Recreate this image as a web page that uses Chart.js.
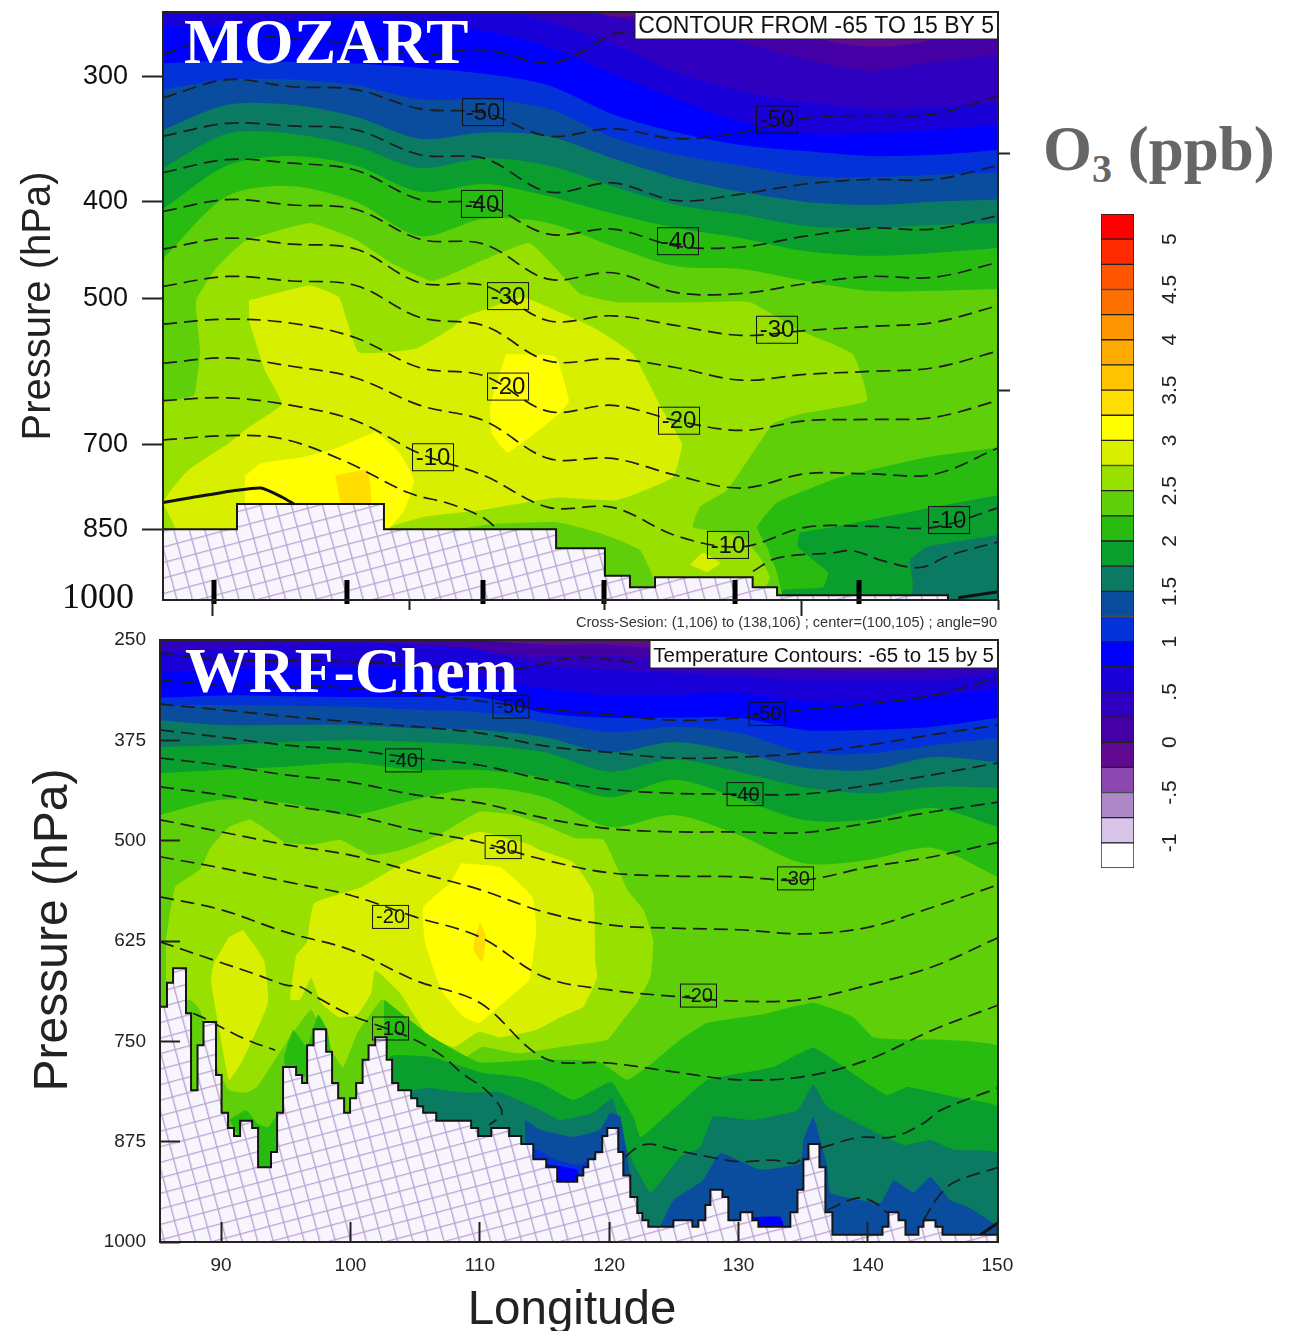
<!DOCTYPE html>
<html>
<head>
<meta charset="utf-8">
<title>O3 cross sections</title>
<script src="https://cdn.jsdelivr.net/npm/chart.js@4/dist/chart.umd.min.js"></script>
<style>
  html, body { margin: 0; background: #fff; overflow: hidden; }
  canvas { position: absolute; display: block; }
  #o3 { position: absolute; left: 1043px; top: 113px; font: bold 63px "Liberation Serif", serif; color: #666; white-space: nowrap; }
  #o3 sub { font-size: 40px; vertical-align: -12px; line-height: 0; }
</style>
</head>
<body>
<canvas id="mozart" width="1020" height="632" style="left:0;top:0"></canvas>
<canvas id="wrf" width="1020" height="701" style="left:0;top:630px"></canvas>
<canvas id="scale" width="271" height="680" style="left:1020px;top:200px"></canvas>
<div id="o3">O<sub>3</sub> (ppb)</div>
<script>
// colour levels, lowest first
const cbLow = [-1.25, -1, -0.75, -0.5, -0.25, 0, 0.25, 0.5, 0.75, 1, 1.25, 1.5, 1.75, 2, 2.25, 2.5, 2.75, 3, 3.25, 3.5, 3.75, 4, 4.25, 4.5, 4.75, 5];
const cbColors = ['#ffffff', '#d8c4e8', '#ad88c8', '#8c48b0', '#5f0a90', '#4400a4', '#3000c0', '#1a00d8', '#0000ff', '#0232d8', '#0a4c9e', '#0b7a62', '#0a9e2e', '#28bc10', '#5fcf0a', '#98e000', '#d8f000', '#ffff00', '#ffdd00', '#ffc400', '#ffaa00', '#ff9500', '#ff7000', '#ff5500', '#ff2a00', '#ff0000'];
const cbTicks = [5, 4.5, 4, 3.5, 3, 2.5, 2, 1.5, 1, 0.5, 0, -0.5, -1];
const cbLabels = ['5', '4.5', '4', '3.5', '3', '2.5', '2', '1.5', '1', '.5', '0', '-.5', '-1'];

// MOZART panel: axes
const topPressureTicks = [300, 400, 500, 700, 850, 1000];
const topLonTicksShort = [104.15, 119.33, 150];
const topLonTicksLong = [88.89, 134.74];
const topThickTicks = [88.97, 99.32, 109.91, 119.33, 129.53, 139.18];
const topRightTicks = [358, 618];

// MOZART panel: ozone band edges (hPa) along topLons
const topLons = [85, 90, 95, 100, 105, 110, 115, 120, 125, 130, 135, 140, 145, 150];
const topEdge0 = [250, 250, 250, 250, 250, 250, 250, 250, 250, 250, 250, 250, 250, 250];
const topEdge1 = [250, 250, 250, 250, 250, 250, 250, 261, 258, 250, 272, 280, 275, 255];
const topEdge2 = [250, 250, 250, 250, 250, 250, 250, 262, 264, 277, 288, 296, 290, 285];
const topEdge3 = [250, 250, 250, 250, 250, 256, 264, 278, 297, 310, 318, 323, 322, 318];
const topEdge4 = [267, 267, 264, 262, 264, 270, 280, 298, 316, 333, 342, 342, 339, 335];
const topEdge5 = [291, 289, 290, 291, 294, 298, 306, 327, 341, 351, 356, 360, 359, 355];
const topEdge6 = [309, 302, 302, 306, 316, 316, 323, 345, 359, 368, 377, 378, 376, 374];
const topEdge7 = [339, 320, 320, 329, 346, 341, 344, 362, 379, 391, 400, 403, 400, 398];
const topEdge8 = [370, 342, 342, 352, 370, 362, 368, 386, 403, 412, 423, 425, 422, 420];
const topEdge9 = [407, 368, 360, 368, 391, 384, 395, 411, 425, 435, 448, 453, 450, 445];
const topEdge10 = [456, 395, 386, 400, 433, 416, 420, 443, 464, 467, 480, 491, 491, 489];

// MOZART panel: closed ozone regions as [lon, hPa]
const topLime = [[85, 635], [87.41, 624], [87.88, 564], [87.57, 502], [89.13, 466], [91.38, 438], [96.44, 420], [99.95, 436], [102.83, 461], [106.02, 480], [109.83, 458], [113.57, 440], [117.46, 494], [120.34, 504], [126.8, 504], [130.7, 504], [134.59, 538], [138.71, 568], [139.8, 632], [134.59, 652], [132.49, 667], [128.9, 777], [126.8, 807], [126.26, 846], [129.92, 862], [131.32, 901], [132.25, 950], [131.1, 1000], [85, 1000]];
const topPaleLeft = [[91.69, 502], [96.44, 485], [98.7, 498], [99.32, 526], [100.26, 566], [104.7, 561], [107.58, 534], [108.2, 523], [112.95, 498], [113.8, 502], [118.47, 534], [121.59, 568], [123.92, 647], [125.4, 698], [124.7, 754], [120.34, 795], [115.67, 790], [109.83, 813], [105.32, 826], [102.2, 852], [102.2, 1000], [85.93, 1000], [85.93, 846], [85, 799], [86.95, 742], [90.06, 698], [91.69, 672], [94.26, 637], [92.94, 590], [91.69, 526]];
const topYellowLow = [[91.38, 752], [92.63, 730], [95.82, 720], [98.7, 704], [101.58, 680], [103.45, 714], [104.54, 759], [103.76, 814], [102.36, 852], [91.38, 852]];
const topGoldLow = [[98.39, 751], [100.88, 742], [101.19, 805], [98.86, 805]];
const topYellowMid = [[111.7, 568], [115.52, 571], [116.6, 632], [115.83, 652], [111.86, 712], [110.61, 682], [110.46, 640], [111.23, 593]];
const topDiamond = [[126.02, 922], [127.04, 897], [128.36, 919], [127.35, 938]];
const topGreenPatch = [[107.26, 852], [110.46, 840], [115.67, 836], [119.02, 857], [122.13, 891], [123.14, 950], [123.14, 1000], [107.26, 1000]];
const topDarkA = [[150, 704], [144.47, 720], [137.7, 754], [132.8, 799], [131.24, 846], [132.02, 885], [132.8, 939], [133.42, 1000], [150, 1000]];
const topDarkB = [[150, 786], [144.94, 808], [137.16, 846], [134.59, 857], [134.43, 885], [136.77, 939], [136.38, 971], [133.26, 977], [133.26, 1000], [150, 1000]];
const topTeal = [[150, 861], [144.47, 885], [143.15, 912], [143.38, 962], [143.38, 1000], [150, 1000]];

// MOZART panel: temperature contours (hPa) along topLons
const topT50 = [315, 302, 307, 309, 323, 326, 344, 338, 346, 341, 330, 328, 327, 314];
const topT45 = [344, 334, 336, 339, 359, 362, 391, 383, 399, 393, 384, 380, 380, 368];
const topT40 = [374, 363, 366, 372, 398, 402, 431, 426, 443, 444, 433, 425, 426, 413];
const topT35 = [409, 398, 403, 407, 436, 441, 478, 471, 493, 494, 483, 475, 476, 460];
const topT30 = [446, 435, 441, 446, 482, 485, 526, 520, 532, 544, 538, 533, 528, 508];
const topT25 = [486, 475, 480, 485, 522, 532, 577, 574, 586, 603, 595, 591, 586, 564];
const topT20 = [530, 524, 529, 547, 586, 597, 648, 639, 662, 677, 662, 660, 657, 632];
const topT15 = [580, 573, 584, 600, 639, 662, 722, 722, 751, 773, 748, 748, 749, 705];
const topT10 = [632, 628, 639, 662, 714, 751, 808, 808, 863, 885, 846, 844, 846, 809];
const topT55 = [[85, 285], [90, 272], [95, 275], [100, 278], [105, 285], [110, 282], [115, 291], [117.7, 283], [120, 272], [121.74, 271]];
const topT5a = [[85, 692], [90.06, 685], [94.26, 690], [99, 725], [104.07, 781], [107.26, 801], [109.83, 826], [111.08, 850]];
const topT5b = [[130.93, 936], [132.8, 908], [137.16, 897], [138.71, 893], [141.05, 914], [143.93, 928], [146.26, 902], [150, 875]];
const topSolidA = [[85, 799], [87.26, 790], [90.76, 777], [92.63, 773], [94.26, 789], [95.2, 802]];
const topSolidB = [[146.9, 995], [150, 981]];
const topTempText = ['-50', '-50', '-40', '-40', '-30', '-30', '-20', '-20', '-10', '-10', '-10'];
const topTempLon = [109.91, 132.8, 109.83, 125.09, 111.86, 132.8, 111.86, 125.17, 106.02, 128.98, 146.19];
const topTempP = [325.5, 331, 402, 438, 497, 537, 612, 662, 720, 881, 832];

// MOZART panel: ground (each level holds until the next longitude)
const topGround = [[85, 850], [90.76, 802], [102.2, 850], [115.6, 888], [119.4, 946], [121.35, 971], [123.3, 949], [130.9, 971], [132.8, 989], [146.1, 1000], [150, 1000]];

// WRF-Chem panel: axes
const wrfPressureTicks = [250, 375, 500, 625, 750, 875, 1000];
const wrfLonTicks = [90, 100, 110, 120, 130, 140, 150];

// WRF-Chem panel: ozone band edges (hPa) along wrfLons
const wrfLons = [85.28, 90, 95, 100, 105, 110, 115, 120, 125, 130, 135, 140, 145, 150.05];
const wrfEdge0 = [240, 240, 240, 240, 240, 240, 240, 240, 240, 240, 240, 240, 240, 240];
const wrfEdge1 = [240, 240, 240, 240, 240, 250, 256, 256, 262, 262, 262, 269, 262, 262];
const wrfEdge2 = [250, 250, 250, 252, 256, 265, 269, 269, 275, 281, 287, 290, 287, 281];
const wrfEdge3 = [266, 262, 257, 254, 256, 262, 281, 287, 291, 295, 300, 300, 300, 291];
const wrfEdge4 = [291, 287, 285, 284, 287, 300, 310, 319, 319, 316, 327, 327, 321, 310];
const wrfEdge5 = [322, 319, 320, 321, 321, 321, 341, 347, 347, 347, 362, 362, 358, 347];
const wrfEdge6 = [331, 331, 332, 333, 337, 340, 352, 365, 358, 366, 390, 391, 381, 372];
const wrfEdge7 = [350, 356, 356, 356, 360, 362, 371, 390, 377, 390, 409, 412, 396, 402];
const wrfEdge8 = [383, 381, 377, 375, 377, 381, 390, 414, 399, 414, 433, 441, 433, 434];
const wrfEdge9 = [416, 412, 408, 403, 412, 412, 422, 446, 424, 447, 474, 474, 459, 483];
const wrfEdge10 = [468, 449, 453, 468, 449, 434, 446, 483, 468, 493, 528, 524, 509, 545];

// WRF-Chem panel: closed ozone regions as [lon, hPa]
const wrfLime = [[85.74, 624], [86.44, 558], [88.37, 536], [89.22, 508], [90.62, 483], [92.24, 474], [93.86, 490], [95.02, 503], [97.19, 505], [99.2, 499], [101.52, 518], [103.84, 512], [106.86, 493], [109.95, 464], [112.66, 468], [114.9, 480], [117.38, 497], [119.54, 499], [121.4, 561], [122.64, 586], [123.41, 624], [123.18, 670], [122.17, 702], [121.09, 723], [119.85, 748], [116.22, 757], [112.97, 765], [110.18, 757], [108.02, 777], [104.69, 727], [102.45, 698], [101.6, 715], [100.52, 740], [99.43, 782], [98.35, 757], [96.96, 711], [95.02, 752], [92.78, 807], [91.93, 814], [90.62, 811], [89.77, 786], [88.37, 711], [87.6, 698], [85.74, 711]];
const wrfPale = [[96.65, 627], [97.19, 578], [100.83, 558], [103.84, 530], [107.71, 502], [109.95, 489], [113.9, 505], [114.67, 512], [117.22, 527], [118.77, 565], [118.92, 652], [119.08, 670], [118, 707], [116.22, 720], [114.36, 736], [111.58, 745], [109.95, 738], [108.02, 757], [106.08, 745], [103.84, 690], [101.91, 661], [101.6, 690], [100.52, 717], [99.12, 720], [97.73, 702], [96.96, 671], [96.11, 698], [95.33, 698], [95.8, 642]];
const wrfPaleWest = [[91.7, 611], [93.32, 649], [93.63, 702], [91.7, 773], [90.62, 798], [89.77, 727], [89.22, 674], [89.46, 652], [90.62, 620]];
const wrfYellow = [[108.56, 528], [111.58, 533], [114.05, 570], [114.36, 611], [113.82, 674], [112.66, 690], [109.95, 727], [108.79, 720], [107.17, 690], [106.63, 670], [105.77, 627], [105.62, 583], [107.71, 553]];
const wrfGold = [[110.03, 601], [110.49, 620], [110.18, 652], [109.49, 636], [109.64, 620]];
const wrfLowGreen = [[102.6, 698], [106.08, 742], [109.95, 776], [114.36, 773], [117.22, 773], [119.31, 776], [121.4, 798], [123.18, 779], [125.5, 748], [127.6, 727], [131.68, 717], [135.78, 702], [138.87, 720], [140.42, 745], [143.05, 748], [145.6, 748], [150.05, 757], [150.05, 1000], [102.6, 1000]];
const wrfWedgeA = [[94.87, 769], [95.57, 736], [96.65, 757], [97.5, 717], [98.2, 736], [98.58, 786], [95.02, 798]];
const wrfWedgeB = [[90.62, 848], [91.93, 836], [92.78, 852], [93.63, 857], [94.48, 839], [94.17, 907], [92.78, 907]];
const wrfLowDark = [[103, 769], [103.47, 767], [106.08, 769], [110.18, 789], [112.97, 794], [114.67, 802], [117.22, 823], [119.93, 801], [120.31, 802], [121.86, 844], [122.4, 869], [123.18, 860], [126.04, 819], [127.6, 798], [132.69, 782], [135.78, 758], [139.19, 794], [141.5, 817], [143.05, 807], [146.61, 819], [150.05, 832], [150.05, 1000], [103, 1000]];
const wrfLowTeal = [[104.69, 811], [106.08, 808], [108.79, 814], [111.58, 814], [114.36, 833], [116.22, 848], [118.77, 839], [120.24, 821], [121.4, 885], [123.18, 938], [125.5, 894], [127.04, 882], [128.05, 844], [131.14, 848], [134.55, 836], [135.78, 804], [136.87, 832], [142.74, 879], [144.83, 873], [146.61, 885], [150.05, 889], [150.05, 1000], [104.69, 1000]];
const wrfNavyWest = [[113.5, 848], [114.67, 860], [117.22, 869], [119.31, 860], [120.08, 839], [120.86, 844], [121.63, 948], [113.5, 948]];
const wrfNavyEast = [[123.95, 981], [124.96, 948], [127.27, 923], [128.59, 889], [131.68, 910], [134.77, 902], [135.01, 873], [135.78, 845], [136.87, 907], [137.1, 939], [140.97, 951], [141.97, 923], [143.52, 938], [144.83, 919], [146.38, 948], [147.69, 956], [150.05, 981], [150.05, 1000], [123.95, 1000]];
const wrfCobalt = [[114.05, 882], [115.98, 898], [117.76, 904], [120.08, 885], [120.08, 935], [114.05, 935]];
const wrfBlueWest = [[114.67, 902], [117.53, 910], [117.53, 935], [114.67, 935]];
const wrfBlueEast = [[131.14, 969], [133.23, 969], [133.62, 991], [130.9, 991]];

// WRF-Chem panel: temperature contours (hPa) along wrfLons
const wrfT50 = [300, 306, 307, 310, 317, 326, 336, 343, 350, 347, 337, 330, 319, 297];
const wrfT45 = [330, 337, 345, 352, 358, 366, 382, 390, 397, 396, 391, 381, 368, 356];
const wrfT40 = [362, 371, 381, 387, 397, 406, 424, 436, 441, 442, 442, 431, 418, 403];
const wrfT35 = [397, 406, 418, 427, 443, 453, 472, 485, 489, 489, 490, 478, 464, 452];
const wrfT30 = [433, 443, 456, 468, 487, 502, 524, 540, 544, 545, 549, 533, 520, 502];
const wrfT25 = [474, 489, 505, 518, 539, 561, 589, 605, 609, 611, 616, 608, 583, 555];
const wrfT20 = [520, 534, 551, 568, 595, 620, 670, 686, 694, 700, 698, 680, 657, 621];
const wrfT15 = [570, 586, 614, 636, 674, 702, 771, 777, 788, 798, 794, 773, 736, 705];
const wrfT55 = [[85.28, 266], [90, 275], [95, 275], [100, 277], [105, 281], [110, 285], [112.4, 287], [114.5, 281], [117.5, 272], [120.47, 275], [122.4, 280]];
const wrfT10 = [[85.28, 626], [89.46, 649], [92.78, 667], [95.02, 680], [96.11, 682], [97.73, 698], [99.97, 717], [101.6, 727], [104.69, 746], [107.17, 769], [108.56, 789], [110.49, 811], [111.58, 832], [111.65, 842], [110.72, 854]];
const wrfT5a = [[87.83, 715], [88.68, 721], [91.7, 746], [94.17, 761]];
const wrfT5b = [[121.24, 894], [122.17, 882], [123.18, 878], [124.96, 885], [128.05, 895], [130.14, 900], [132.69, 898], [134.24, 902], [135.01, 895]];
const wrfT5c = [[136.33, 883], [139.19, 870], [141.97, 869], [144.29, 852], [145.6, 836], [150.05, 808]];
const wrfT0a = [[136.87, 960], [139.19, 945], [140.42, 950], [141.5, 964]];
const wrfT0b = [[144.29, 973], [145.37, 945], [146.61, 926], [150.05, 907]];
const wrfSolid = [[148.7, 991], [150.05, 976]];
const wrfTempText = ['-50', '-50', '-40', '-40', '-30', '-30', '-20', '-20', '-10'];
const wrfTempLon = [112.4, 132.2, 104.1, 130.5, 111.8, 134.4, 103.1, 126.9, 103.1];
const wrfTempP = [333, 342, 400, 442, 508, 547, 595, 693, 734];

// WRF-Chem panel: ground (each level holds until the next longitude)
const wrfGround = [[85.28, 707], [85.82, 677], [86.29, 659], [87.29, 715], [87.68, 811], [88.18, 755], [88.64, 726], [89.61, 792], [90.04, 839], [90.54, 858], [91, 868], [91.47, 849], [92.4, 858], [92.86, 907], [93.86, 888], [94.33, 839], [94.79, 782], [95.8, 792], [96.26, 802], [96.65, 755], [97.15, 735], [98.12, 763], [98.58, 802], [99.05, 821], [99.51, 839], [99.97, 821], [100.44, 802], [100.94, 773], [101.4, 755], [101.91, 745], [102.8, 773], [103.22, 802], [103.69, 811], [104.69, 821], [105.16, 831], [105.62, 839], [106.63, 849], [109.33, 858], [109.87, 868], [110.88, 858], [112.27, 868], [113.2, 878], [114.13, 897], [115.13, 907], [115.98, 925], [117.53, 917], [118, 907], [118.38, 897], [118.92, 888], [119.46, 868], [119.85, 858], [120.7, 888], [121.09, 917], [121.63, 944], [122.17, 964], [122.56, 973], [123.02, 981], [124.96, 973], [126.43, 981], [126.89, 973], [127.43, 954], [127.82, 935], [128.75, 944], [129.21, 973], [130.14, 963], [131.06, 973], [131.53, 981], [134, 963], [134.55, 935], [135.01, 897], [135.4, 878], [136.25, 907], [136.71, 963], [137.25, 991], [141.12, 981], [141.58, 963], [142.36, 973], [142.9, 991], [143.9, 981], [144.29, 973], [145.22, 981], [145.76, 991], [150.05, 991]];

const C = {
    purple: '#5f0a90', indigo: '#4400a4', violet: '#3000c0', royal: '#1a00d8', blue: '#0000ff', cobalt: '#0232d8',
    navy: '#0a4c9e', teal: '#0b7a62', forest: '#0a9e2e', green: '#28bc10', leaf: '#5fcf0a', lime: '#98e000',
    pale: '#d8f000', yellow: '#ffff00', gold: '#ffdd00'
};
const edgeColors = [C.purple, C.indigo, C.violet, C.royal, C.blue, C.cobalt, C.navy, C.teal, C.forest, C.green, C.leaf];
const INK = '#1c1c1c';

function pts(pairs) { return pairs.map(p => ({ x: p[0], y: p[1] })); }
function along(lons, vals) { return lons.map((x, i) => ({ x: x, y: vals[i] })); }

function edge(lons, vals, color) {
    return { data: along(lons, vals), borderWidth: 0, backgroundColor: color, fill: { value: 1100 }, tension: 0.3 };
}
function region(pairs, color) {
    return { data: pts(pairs), borderWidth: 0, backgroundColor: color, fill: 'shape', tension: 0.12 };
}
function contour(data) {
    return { data: data, borderColor: INK, borderWidth: 1.7, borderDash: [14, 7], fill: false, tension: 0.35 };
}
function solid(pairs, width) {
    return { data: pts(pairs), borderColor: '#111', borderWidth: width, fill: false, tension: 0.2 };
}

// the crosshatch used for the ground
function hatchPattern() {
    const tile = document.createElement('canvas');
    tile.width = 15;
    tile.height = 15;
    const g = tile.getContext('2d');
    g.fillStyle = '#f9f5fc';
    g.fillRect(0, 0, 15, 15);
    g.strokeStyle = '#b8a4d2';
    g.lineWidth = 1.7;
    g.beginPath();
    g.moveTo(0.5, 0);
    g.lineTo(0.5, 15);
    g.moveTo(0, 0.5);
    g.lineTo(15, 0.5);
    g.stroke();
    const pattern = g.createPattern(tile, 'repeat');
    pattern.setTransform(new DOMMatrix().rotate(-15));
    return pattern;
}

function ground(pairs) {
    return { data: pts(pairs), stepped: true, borderColor: '#151515', borderWidth: 2, backgroundColor: hatchPattern(), fill: { value: 1000 } };
}

function setTicks(values) {
    return function(scale) { scale.ticks = values.map(v => ({ value: v })); };
}

// fixed axis sizes, without the room Chart.js keeps for the outer tick labels
function fitWidth(w) {
    return function(s) { s.width = w; s.paddingTop = 0; s.paddingBottom = 0; };
}
function fitHeight(h) {
    return function(s) { s.height = h; s.paddingLeft = 0; s.paddingRight = 0; };
}

function putText(ctx, text, x, y, font, color, align, angle) {
    ctx.save();
    ctx.translate(x, y);
    if (angle) ctx.rotate(angle);
    ctx.font = font;
    ctx.fillStyle = color;
    ctx.textAlign = align || 'left';
    ctx.textBaseline = 'alphabetic';
    ctx.fillText(text, 0, 0);
    ctx.restore();
}

// frame, title, key box and the boxed contour labels of one panel
function panelPlugin(cfg) {
    return {
        id: 'panel',
        afterDatasetsDraw(chart) {
            const ctx = chart.ctx;
            const area = chart.chartArea;
            const xs = chart.scales.x;
            const ys = chart.scales.y;
            ctx.save();
            ctx.strokeStyle = '#111';
            ctx.lineWidth = 1;
            ctx.font = cfg.labelFont;
            ctx.textAlign = 'center';
            ctx.textBaseline = 'middle';
            ctx.fillStyle = '#111';
            cfg.labelText.forEach((t, i) => {
                const px = xs.getPixelForValue(cfg.labelLon[i]);
                const py = ys.getPixelForValue(cfg.labelP[i]);
                ctx.strokeRect(px - cfg.labelW / 2, py - cfg.labelH / 2, cfg.labelW, cfg.labelH);
                ctx.fillText(t, px, py + 1);
            });
            ctx.restore();

            // white key box in the top right corner
            ctx.save();
            ctx.fillStyle = '#fff';
            ctx.strokeStyle = '#222';
            ctx.lineWidth = 1;
            ctx.fillRect(area.right - cfg.keyW, area.top, cfg.keyW, cfg.keyH);
            ctx.strokeRect(area.right - cfg.keyW, area.top, cfg.keyW, cfg.keyH);
            ctx.restore();
            putText(ctx, cfg.key, area.right - 4, area.top + cfg.keyH - 6, cfg.keyFont, '#111', 'right');
            putText(ctx, cfg.title, area.left + cfg.titleX, area.top + cfg.titleY, 'bold 63.7px "Liberation Serif"', '#fff');

            ctx.save();
            ctx.strokeStyle = '#222';
            ctx.lineWidth = 2;
            ctx.strokeRect(area.left, area.top, area.right - area.left, area.bottom - area.top);
            ctx.restore();
            if (cfg.extra) cfg.extra(ctx, area);
        }
    };
}

const baseOptions = {
    responsive: false,
    animation: false,
    events: [],
    elements: { point: { radius: 0 } },
    plugins: { legend: { display: false }, tooltip: { enabled: false } }
};

// ---- MOZART panel ----
const topEdges = [topEdge0, topEdge1, topEdge2, topEdge3, topEdge4, topEdge5, topEdge6, topEdge7, topEdge8, topEdge9, topEdge10];
const topDatasets = topEdges.map((e, i) => edge(topLons, e, edgeColors[i]));
topDatasets.push(
    region(topLime, C.lime), region(topGreenPatch, C.leaf), region(topPaleLeft, C.pale),
    region(topYellowLow, C.yellow), region(topGoldLow, C.gold), region(topYellowMid, C.yellow), region(topDiamond, C.pale),
    region(topDarkA, C.green), region(topDarkB, C.forest), region(topTeal, C.teal)
);
[topT50, topT45, topT40, topT35, topT30, topT25, topT20, topT15, topT10].forEach(t => topDatasets.push(contour(along(topLons, t))));
topDatasets.push(contour(pts(topT55)), contour(pts(topT5a)), contour(pts(topT5b)));
topDatasets.push(ground(topGround));
topDatasets.push(solid(topSolidA, 3), solid(topSolidB, 3));
topThickTicks.forEach(lon => {
    topDatasets.push({ data: [{ x: lon, y: 955 }, { x: lon, y: 1009 }], borderColor: '#000', borderWidth: 5, fill: false, clip: false });
});

new Chart(document.getElementById('mozart'), {
    type: 'line',
    data: { datasets: topDatasets.reverse() },
    options: Object.assign({}, baseOptions, {
        layout: { padding: { left: 0, right: 10, top: 12, bottom: 0 } },
        scales: {
            x: {
                type: 'linear', position: 'bottom', min: 85, max: 150, weight: 1,
                afterFit: fitHeight(32),
                afterBuildTicks: setTicks(topLonTicksShort),
                ticks: { display: false },
                grid: { drawOnChartArea: false, tickLength: 10, tickWidth: 2, tickColor: '#222', z: 1 },
                border: { display: false }
            },
            xLong: {
                type: 'linear', axis: 'x', position: 'bottom', min: 85, max: 150, weight: 0,
                afterFit: fitHeight(0),
                afterBuildTicks: setTicks(topLonTicksLong),
                ticks: { display: false },
                grid: { drawOnChartArea: false, tickLength: 16, tickWidth: 2, tickColor: '#222', z: 1 },
                border: { display: false }
            },
            y: {
                type: 'logarithmic', position: 'left', reverse: true, min: 258.5, max: 1000,
                afterFit: fitWidth(163),
                afterBuildTicks: setTicks(topPressureTicks),
                ticks: {
                    autoSkip: false, padding: 14, color: '#111',
                    font: { family: 'Liberation Sans', size: 27 },
                    callback: v => (v === 1000 ? '' : String(v))
                },
                grid: {
                    drawOnChartArea: false, tickLength: 21, tickWidth: 2, z: 1,
                    tickColor: c => (c.tick && c.tick.value === 1000) ? 'rgba(0,0,0,0)' : '#222'
                },
                border: { display: false }
            },
            yRight: {
                type: 'logarithmic', axis: 'y', position: 'right', reverse: true, min: 258.5, max: 1000,
                afterFit: fitWidth(12),
                afterBuildTicks: setTicks(topRightTicks),
                ticks: { display: false },
                grid: { drawOnChartArea: false, tickLength: 12, tickWidth: 2, tickColor: '#222', z: 1 },
                border: { display: false }
            }
        }
    }),
    plugins: [panelPlugin({
        labelText: topTempText, labelLon: topTempLon, labelP: topTempP,
        labelFont: '24px "Liberation Sans"', labelW: 41, labelH: 27,
        key: 'CONTOUR FROM -65 TO 15 BY 5', keyFont: '23px "Liberation Sans"', keyW: 363, keyH: 27,
        title: 'MOZART', titleX: 21, titleY: 51,
        extra(ctx, area) {
            putText(ctx, '1000', 134, area.bottom + 8, '36px "Liberation Serif"', '#111', 'right');
            putText(ctx, 'Cross-Sesion: (1,106) to (138,106) ; center=(100,105) ; angle=90', area.right - 1, 627, '14.6px "Liberation Sans"', '#333', 'right');
            putText(ctx, 'Pressure (hPa)', 50, 306, '40px "Liberation Sans"', '#222', 'center', -Math.PI / 2);
        }
    })]
});

// ---- WRF-Chem panel ----
const wrfEdges = [wrfEdge0, wrfEdge1, wrfEdge2, wrfEdge3, wrfEdge4, wrfEdge5, wrfEdge6, wrfEdge7, wrfEdge8, wrfEdge9, wrfEdge10];
const wrfDatasets = wrfEdges.map((e, i) => edge(wrfLons, e, edgeColors[i]));
wrfDatasets.push(
    region(wrfLime, C.lime), region(wrfPale, C.pale), region(wrfPaleWest, C.pale), region(wrfYellow, C.yellow), region(wrfGold, C.gold),
    region(wrfLowGreen, C.green), region(wrfWedgeA, C.green), region(wrfWedgeB, C.green),
    region(wrfLowDark, C.forest), region(wrfLowTeal, C.teal), region(wrfNavyWest, C.navy), region(wrfNavyEast, C.navy),
    region(wrfCobalt, C.cobalt), region(wrfBlueWest, C.blue), region(wrfBlueEast, C.blue)
);
[wrfT50, wrfT45, wrfT40, wrfT35, wrfT30, wrfT25, wrfT20, wrfT15].forEach(t => wrfDatasets.push(contour(along(wrfLons, t))));
[wrfT55, wrfT10, wrfT5a, wrfT5b, wrfT5c, wrfT0a, wrfT0b].forEach(t => wrfDatasets.push(contour(pts(t))));
wrfDatasets.push(ground(wrfGround));
wrfDatasets.push(solid(wrfSolid, 3));

new Chart(document.getElementById('wrf'), {
    type: 'line',
    data: { datasets: wrfDatasets.reverse() },
    options: Object.assign({}, baseOptions, {
        layout: { padding: { left: 0, right: 22, top: 10, bottom: 0 } },
        scales: {
            x: {
                type: 'linear', position: 'bottom', min: 85.28, max: 150.05,
                afterFit: fitHeight(89),
                afterBuildTicks: setTicks(wrfLonTicks),
                ticks: { autoSkip: false, maxRotation: 0, padding: 32, color: '#222', font: { family: 'Liberation Sans', size: 19 }, callback: v => String(v) },
                grid: { drawOnChartArea: false, tickLength: -20, tickWidth: 2, tickColor: '#222', z: 1 },
                border: { display: false }
            },
            y: {
                type: 'linear', position: 'left', reverse: true, min: 250, max: 1000,
                afterFit: fitWidth(160),
                afterBuildTicks: setTicks(wrfPressureTicks),
                ticks: { autoSkip: false, padding: 34, color: '#222', font: { family: 'Liberation Sans', size: 19 }, callback: v => String(v) },
                grid: { drawOnChartArea: false, tickLength: -20, tickWidth: 2, tickColor: '#222', z: 1 },
                border: { display: false }
            }
        }
    }),
    plugins: [panelPlugin({
        labelText: wrfTempText, labelLon: wrfTempLon, labelP: wrfTempP,
        labelFont: '20px "Liberation Sans"', labelW: 36, labelH: 23,
        key: 'Temperature Contours: -65 to 15 by 5', keyFont: '20.5px "Liberation Sans"', keyW: 348, keyH: 28,
        title: 'WRF-Chem', titleX: 25, titleY: 52,
        extra(ctx, area) {
            putText(ctx, 'Pressure (hPa)', 67, 300, '48px "Liberation Sans"', '#222', 'center', -Math.PI / 2);
            putText(ctx, 'Longitude', 572, 694, '47.5px "Liberation Sans"', '#222', 'center');
        }
    })]
});

// ---- colour scale ----
new Chart(document.getElementById('scale'), {
    type: 'bar',
    data: {
        labels: ['O3'],
        datasets: cbLow.map((low, i) => ({
            data: [[low, low + 0.25]],
            backgroundColor: cbColors[i],
            borderColor: '#222',
            borderWidth: 1,
            borderSkipped: false,
            barPercentage: 1,
            categoryPercentage: 1
        }))
    },
    options: Object.assign({}, baseOptions, {
        layout: { padding: { left: 81, right: 0, top: 14, bottom: 12 } },
        scales: {
            x: { stacked: true, display: false },
            y: {
                position: 'right', min: -1.25, max: 5.25,
                afterFit: fitWidth(157),
                afterBuildTicks: setTicks(cbTicks),
                ticks: {
                    autoSkip: false, minRotation: 90, maxRotation: 90, crossAlign: 'center', padding: 22,
                    color: '#222', font: { family: 'Liberation Sans', size: 21 },
                    callback: (v, i) => cbLabels[i]
                },
                grid: { display: false, drawTicks: false },
                border: { display: false }
            }
        }
    })
});
</script>
</body>
</html>
